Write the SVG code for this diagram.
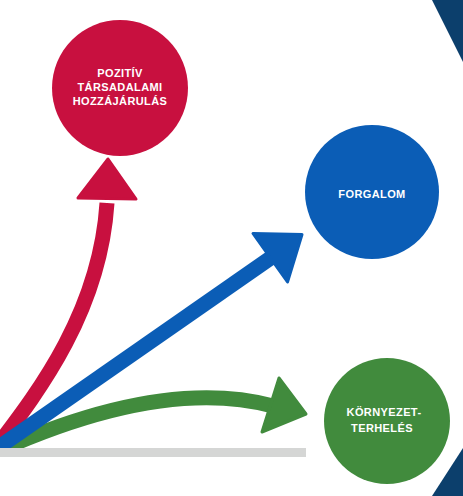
<svg xmlns="http://www.w3.org/2000/svg" width="463" height="496" viewBox="0 0 463 496">
<style>
.lbl{font-family:"Liberation Sans",Arial,sans-serif;font-weight:bold;font-size:11px;fill:#fff;text-anchor:middle;letter-spacing:0.4px}
.shaft{fill:none;stroke-width:15;stroke-linecap:butt}
.head{stroke-width:3;stroke-linejoin:round}
</style>
<rect width="463" height="496" fill="#fff"/>
<polygon points="432,0 463,0 463,62" fill="#0c3f6c"/>
<polygon points="463,448 463,496 432,496" fill="#0c3f6c"/>
<g id="connectors">
  <g id="arrow-red">
    <path class="shaft" stroke="#c8103f" d="M -3,446 C 40,390 100,310 107,203"/>
    <polygon class="head" fill="#c8103f" stroke="#c8103f" points="108,159 136,199 78,198"/>
  </g>
  <g id="arrow-green">
    <path class="shaft" stroke="#418b3d" d="M 0,450 Q 164,377 273,406"/>
    <polygon class="head" fill="#418b3d" stroke="#418b3d" points="279,378 306,414 262,432"/>
  </g>
  <g id="arrow-blue">
    <path class="shaft" stroke="#0b5db6" d="M -8,452 L 272,257"/>
    <polygon class="head" fill="#0b5db6" stroke="#0b5db6" points="253,233.5 302,234.5 287.5,282"/>
  </g>
</g>
<rect x="0" y="448" width="306" height="9" fill="#d5d6d5"/>
<g id="node-pozitiv">
  <circle cx="120" cy="88" r="68" fill="#c8103f"/>
  <text class="lbl" x="120" y="77">POZITÍV</text>
  <text class="lbl" x="120" y="91">TÁRSADALAMI</text>
  <text class="lbl" x="120" y="105">HOZZÁJÁRULÁS</text>
</g>
<g id="node-forgalom">
  <circle cx="372" cy="192" r="67" fill="#0b5db6"/>
  <text class="lbl" x="372" y="198">FORGALOM</text>
</g>
<g id="node-kornyezet">
  <circle cx="387" cy="421" r="63" fill="#418b3d"/>
  <text class="lbl" x="384" y="416">KÖRNYEZET-</text>
  <text class="lbl" x="382" y="432">TERHELÉS</text>
</g>
</svg>
